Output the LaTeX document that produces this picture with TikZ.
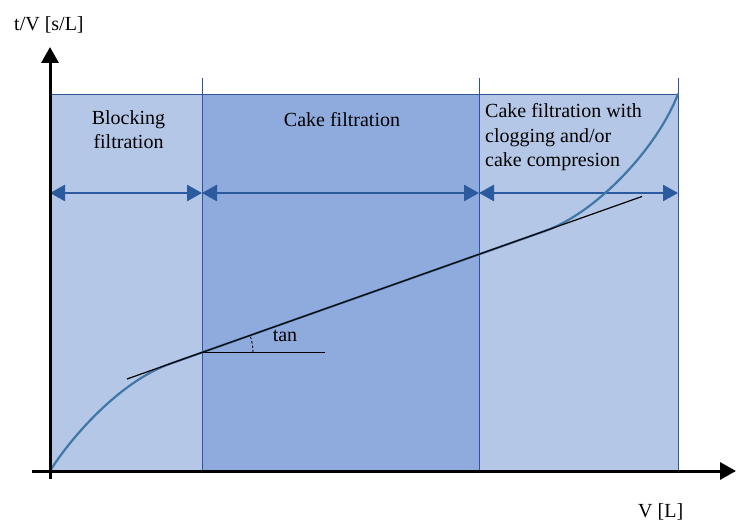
\documentclass[tikz,border=0pt]{standalone}
\usepackage{fontspec}
\setmainfont{Liberation Serif}
\usetikzlibrary{arrows.meta}
\definecolor{lightreg}{HTML}{B4C7E7}
\definecolor{darkreg}{HTML}{8FAADC}
\definecolor{regline}{HTML}{2F5597}
\definecolor{arrline}{HTML}{2C5A9E}
\definecolor{curvecol}{HTML}{3F77A8}
\tikzset{
  lbl/.style={font=\fontsize{20}{24.5}\selectfont, inner sep=0pt, text=black},
  regbox/.style={draw=regline, line width=0.9pt},
  span/.style={draw=arrline, line width=2.6pt, {Triangle[length=15pt,width=16pt]}-{Triangle[length=15pt,width=16pt]}, shorten <=0pt, shorten >=0pt},
  axis/.style={draw=black, line width=3pt, -{Triangle[length=16pt,width=17pt]}},
  tangline/.style={draw=black, line width=1.2pt},
}
\begin{document}
\begin{tikzpicture}[x=1pt,y=-1pt]
\useasboundingbox (0,0) rectangle (736,521);
% regions
\fill[lightreg] (50,94) rectangle (202,471);
\fill[darkreg] (202,94) rectangle (479,471);
\fill[lightreg] (479,94) rectangle (678,471);
\draw[regbox] (50,94) -- (678,94);
\draw[regbox] (50,471) -- (678,471);
\coordinate (d1t) at (202,78); \coordinate (d1b) at (202,471);
\coordinate (d2t) at (479,78); \coordinate (d2b) at (479,471);
\coordinate (d3t) at (678,78); \coordinate (d3b) at (678,471);
\draw[regbox] (d1t) -- (d1b);
\draw[regbox] (d2t) -- (d2b);
\draw[regbox] (d3t) -- (d3b);
% span arrows
\coordinate (a0) at (50,193);
\coordinate (a1) at (202,193);
\coordinate (a2) at (479,193);
\coordinate (a3) at (678,193);
\draw[span] (a0) -- (a1);
\draw[span] (a1) -- (a2);
\draw[span] (a2) -- (a3);
% labels
\node[lbl, anchor=north, align=center] (blk) at (128.5,110) {Blocking\\filtration};
\node[lbl, anchor=base] (cake) at (342,127) {Cake filtration};
\node[lbl, anchor=north west, align=left] (clog) at (485,103.5) {Cake filtration with\\clogging and/or\\cake compresion};
% curve
\coordinate (c0) at (50,471);
\coordinate (c1) at (170,363.8);
\coordinate (c2) at (545,231);
\coordinate (c3) at (678,94);
\draw[curvecol, line width=2.2pt, line cap=round]
  (c0) .. controls (71.2,437) and (120,381.5) .. (c1) -- (c2)
  .. controls (595,213.3) and (656.4,149.8) .. (c3);
% tangent
\coordinate (t0) at (127,379);
\coordinate (t1) at (642,196.5);
\coordinate (tp) at (202,352.5);
\coordinate (h1) at (325,352.5);
\draw[tangline] (t0) -- (t1);
\draw[draw=black, line width=1pt] (tp) -- (h1);
\draw[black, line width=0.9pt, dash pattern=on 2.5pt off 2pt] (253,352.5) arc[start angle=0, end angle=-19.5, radius=51];
\node[lbl] (tan) at (285,336) {tan};
% axes
\coordinate (xo) at (32,471);
\coordinate (xe) at (736,471);
\coordinate (yo) at (50,479);
\coordinate (ye) at (50,47);
\draw[axis] (xo) -- (xe);
\draw[axis] (yo) -- (ye);
\node[lbl, anchor=base west] (ylab) at (14,31) {t/V [s/L]};
\node[lbl, anchor=base west] (xlab) at (638,517) {V [L]};
\end{tikzpicture}
\end{document}
